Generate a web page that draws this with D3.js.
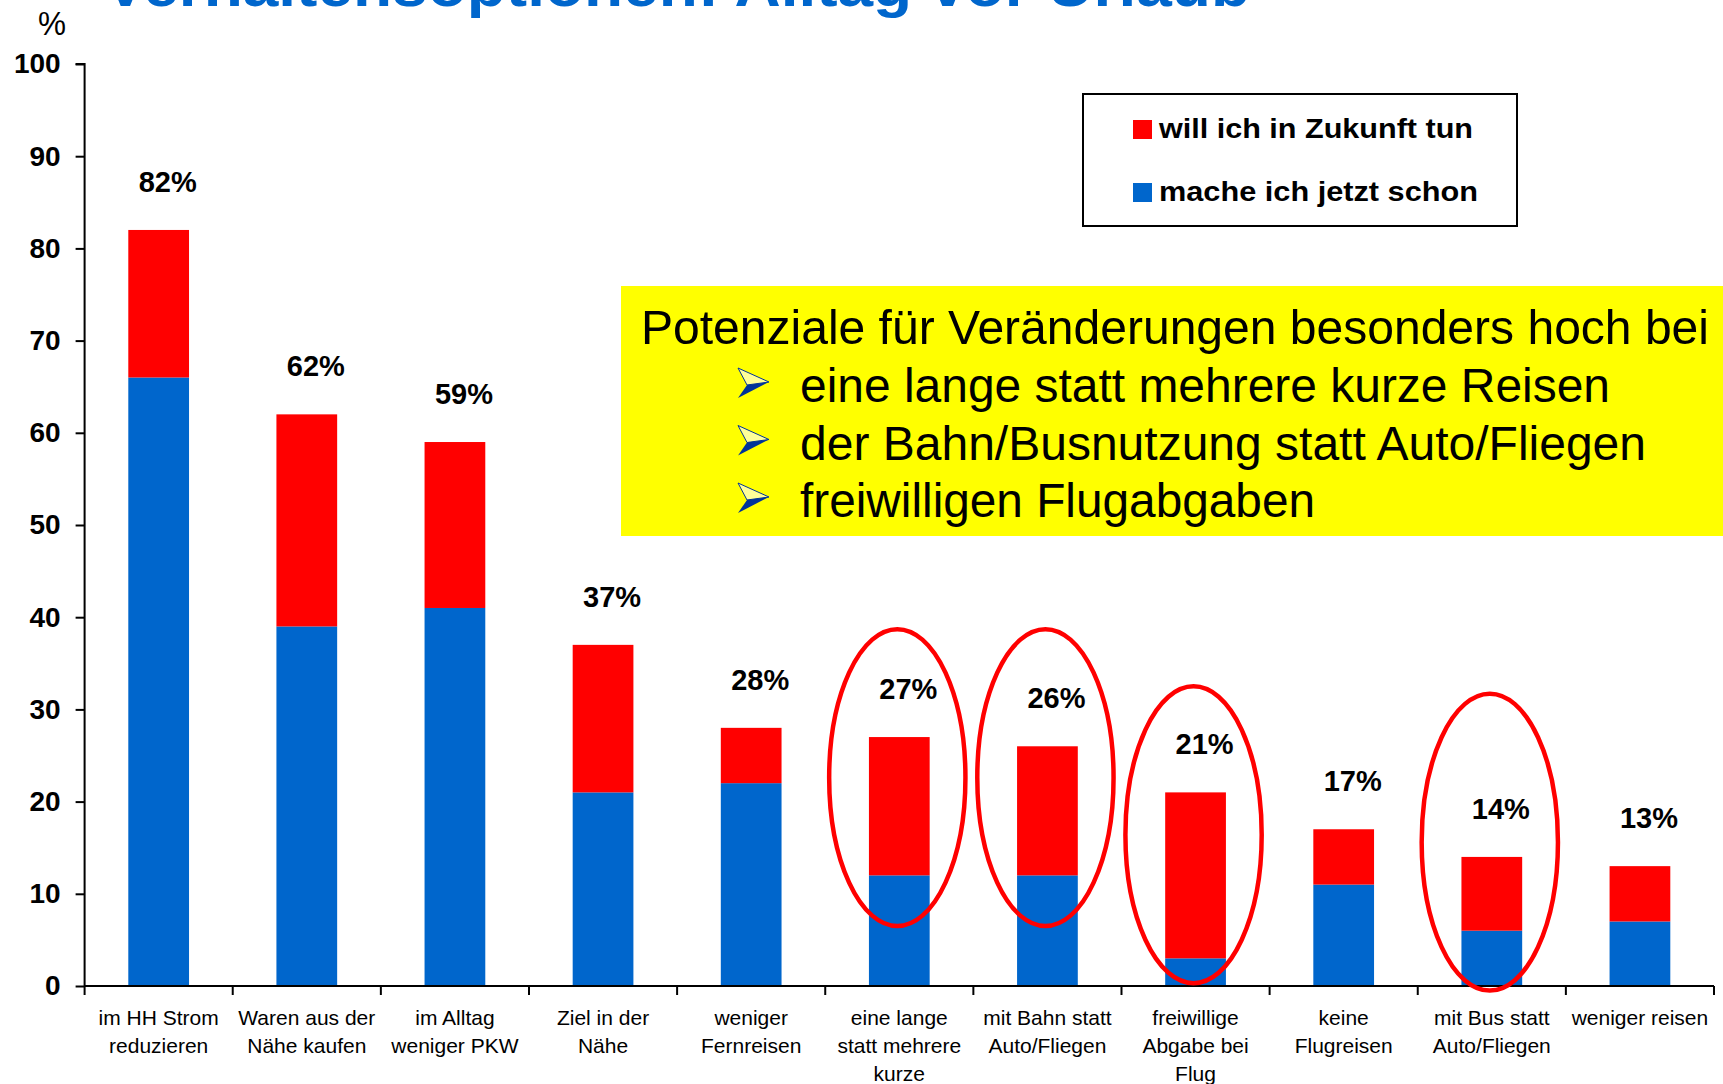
<!DOCTYPE html>
<html>
<head>
<meta charset="utf-8">
<script src="https://cdn.jsdelivr.net/npm/d3@7"></script>
<style>
  body { margin: 0; background: #fff; }
  svg { display: block; font-family: "Liberation Sans", Arial, sans-serif; }
</style>
</head>
<body>
<svg id="chart"></svg>
<script>
// data
const categories = [
  "im HH Strom\nreduzieren",
  "Waren aus der\nNähe kaufen",
  "im Alltag\nweniger PKW",
  "Ziel in der\nNähe",
  "weniger\nFernreisen",
  "eine lange\nstatt mehrere\nkurze",
  "mit Bahn statt\nAuto/Fliegen",
  "freiwillige\nAbgabe bei\nFlug",
  "keine\nFlugreisen",
  "mit Bus statt\nAuto/Fliegen",
  "weniger reisen"
];
const nowValues    = [66, 39, 41, 21, 22, 12, 12, 3, 11, 6, 7];   // mache ich jetzt schon
const futureValues = [16, 23, 18, 16, 6, 15, 14, 18, 6, 8, 6];    // will ich in Zukunft tun
const yTicks = [0, 10, 20, 30, 40, 50, 60, 70, 80, 90, 100];
const seriesNames = ["will ich in Zukunft tun", "mache ich jetzt schon"];
// highlighted bars: category index and centre of the ring in %
const circled = [
  {index: 5, center: 22.6},
  {index: 6, center: 22.6},
  {index: 7, center: 16.4},
  {index: 9, center: 15.6}
];
const title = "Verhaltensoptionen: Alltag vor Urlaub";
const boxHeading = "Potenziale für Veränderungen besonders hoch bei";
const boxBullets = [
  "eine lange statt mehrere kurze Reisen",
  "der Bahn/Busnutzung statt Auto/Fliegen",
  "freiwilligen Flugabgaben"
];

const W = 1723, H = 1084;
const blue = "#0066cc", red = "#ff0000";

const svg = d3.select("#chart").attr("width", W).attr("height", H);
svg.append("rect").attr("width", W).attr("height", H).attr("fill", "#fff");

const plot = {left: 84.6, right: 1714, top: 64, bottom: 986};

const x = d3.scaleBand()
  .domain(d3.range(categories.length))
  .range([plot.left, plot.right])
  .paddingInner(0.59)
  .paddingOuter(0.295);

const y = d3.scaleLinear().domain([0, 100]).range([plot.bottom, plot.top]);

const rows = categories.map((c, i) => ({
  i: i, now: nowValues[i], future: futureValues[i], total: nowValues[i] + futureValues[i]
}));

// title (cut off by the top edge, as in the slide)
svg.append("text")
  .attr("x", 104).attr("y", 6)
  .attr("font-size", 60).attr("font-weight", "bold")
  .attr("fill", blue)
  .attr("textLength", 1146).attr("lengthAdjust", "spacingAndGlyphs")
  .text(title);

// bars
const g = svg.append("g");
g.selectAll(".now").data(rows).join("rect")
  .attr("class", "now")
  .attr("x", d => x(d.i)).attr("width", x.bandwidth())
  .attr("y", d => y(d.now)).attr("height", d => y(0) - y(d.now))
  .attr("fill", blue);

g.selectAll(".future").data(rows).join("rect")
  .attr("class", "future")
  .attr("x", d => x(d.i)).attr("width", x.bandwidth())
  .attr("y", d => y(d.total)).attr("height", d => y(d.now) - y(d.total))
  .attr("fill", red);

// total labels
g.selectAll(".lbl").data(rows).join("text")
  .attr("class", "lbl")
  .attr("x", d => x(d.i) + x.bandwidth() / 2 + 9)
  .attr("y", d => y(d.total) - 38)
  .attr("text-anchor", "middle")
  .attr("font-size", 29).attr("font-weight", "bold")
  .text(d => d.total + "%");

// y axis
const yAxis = svg.append("g").attr("transform", `translate(${plot.left},0)`)
  .call(d3.axisLeft(y).tickValues(yTicks).tickSize(9).tickPadding(15));
yAxis.select(".domain").attr("stroke", "#000").attr("stroke-width", 2)
  .attr("d", `M-9,${plot.top}H0V${plot.bottom}`);
yAxis.selectAll(".tick line").attr("stroke", "#000").attr("stroke-width", 2);
yAxis.selectAll(".tick text")
  .attr("font-size", 28).attr("font-weight", "bold")
  .attr("font-family", "Liberation Sans, Arial, sans-serif").attr("fill", "#000");

svg.append("text")
  .attr("x", 38).attr("y", 35)
  .attr("font-size", 34)
  .attr("textLength", 28).attr("lengthAdjust", "spacingAndGlyphs")
  .text("%");

// x axis with ticks at category boundaries
const step = x.step();
const xAxis = svg.append("g");
xAxis.append("line")
  .attr("x1", plot.left).attr("x2", plot.right)
  .attr("y1", y(0)).attr("y2", y(0))
  .attr("stroke", "#000").attr("stroke-width", 2);
xAxis.selectAll(".xt").data(d3.range(categories.length + 1)).join("line")
  .attr("class", "xt")
  .attr("x1", i => plot.left + i * step).attr("x2", i => plot.left + i * step)
  .attr("y1", y(0)).attr("y2", y(0) + 9)
  .attr("stroke", "#000").attr("stroke-width", 2);

const xl = xAxis.selectAll(".xl").data(rows).join("text")
  .attr("class", "xl")
  .attr("text-anchor", "middle")
  .attr("font-size", 21)
  .attr("x", d => x(d.i) + x.bandwidth() / 2);
xl.selectAll("tspan").data(d => categories[d.i].split("\n")).join("tspan")
  .attr("x", function() { return d3.select(this.parentNode).attr("x"); })
  .attr("y", (s, k) => 1025 + k * 28)
  .text(s => s);

// red rings
svg.selectAll(".ring").data(circled).join("ellipse")
  .attr("class", "ring")
  .attr("cx", d => x(d.index) + x.bandwidth() / 2 - 2)
  .attr("cy", d => y(d.center))
  .attr("rx", step * 0.46)
  .attr("ry", y(0) - y(16.1))
  .attr("fill", "none")
  .attr("stroke", red)
  .attr("stroke-width", 4.5);

// legend
const leg = svg.append("g");
leg.append("rect")
  .attr("x", 1083).attr("y", 94).attr("width", 434).attr("height", 132)
  .attr("fill", "#fff").attr("stroke", "#000").attr("stroke-width", 2);
const legColors = [red, blue];
const legWidths = [314, 319];
seriesNames.forEach((name, k) => {
  leg.append("rect")
    .attr("x", 1133).attr("y", 120 + k * 63).attr("width", 19).attr("height", 19)
    .attr("fill", legColors[k]);
  leg.append("text")
    .attr("x", 1159).attr("y", 138 + k * 63)
    .attr("font-size", 27).attr("font-weight", "bold")
    .attr("textLength", legWidths[k]).attr("lengthAdjust", "spacingAndGlyphs")
    .text(name);
});

// yellow note box
const note = svg.append("g");
note.append("rect")
  .attr("x", 621).attr("y", 286).attr("width", W - 621).attr("height", 250)
  .attr("fill", "#ffff00");
note.append("text")
  .attr("x", 641).attr("y", 344)
  .attr("font-size", 48)
  .attr("textLength", 1068).attr("lengthAdjust", "spacingAndGlyphs")
  .text(boxHeading);
const bulletWidths = [810, 846, 515];
boxBullets.forEach((line, k) => {
  const base = 402 + k * 57.5;
  const ax = 738, ay = base - 19;
  note.append("polygon")
    .attr("points", [[ax, ay - 15], [ax + 31, ay - 1], [ax + 9, ay + 2]].join(" "))
    .attr("fill", "#ffff99").attr("stroke", "#003399").attr("stroke-width", 1);
  note.append("polygon")
    .attr("points", [[ax + 9, ay + 2], [ax + 31, ay - 1], [ax, ay + 15]].join(" "))
    .attr("fill", "#003399");
  note.append("text")
    .attr("x", 800).attr("y", base)
    .attr("font-size", 48)
    .attr("textLength", bulletWidths[k]).attr("lengthAdjust", "spacingAndGlyphs")
    .text(line);
});
</script>
</body>
</html>
